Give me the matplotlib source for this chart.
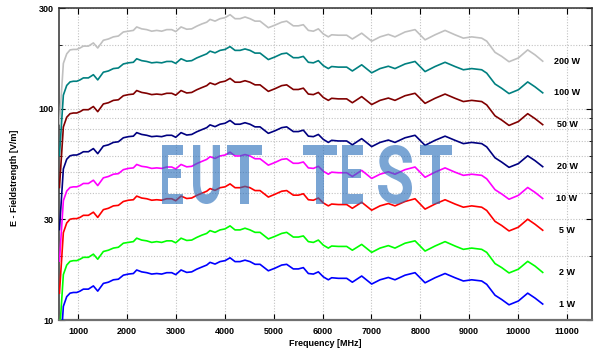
import matplotlib
matplotlib.use('Agg')
import matplotlib.pyplot as plt
from matplotlib.ticker import FixedLocator, NullFormatter
from matplotlib.textpath import TextPath
from matplotlib.patches import PathPatch
from matplotlib.font_manager import FontProperties
from matplotlib.transforms import Affine2D

plt.rcParams['font.family'] = ['Liberation Sans', 'DejaVu Sans']
plt.rcParams['font.weight'] = 'bold'

# ---------------- data ----------------
freq = [620, 700, 769, 837, 905, 973, 1041, 1109, 1212, 1314,
        1403, 1518, 1621, 1723, 1825, 1927, 2030, 2132, 2200, 2302,
        2405, 2507, 2609, 2711, 2814, 2916, 2998, 3107, 3223, 3325,
        3427, 3529, 3632, 3700, 3802, 3904, 4007, 4109, 4211, 4313,
        4415, 4517, 4620, 4722, 4892, 5029, 5165, 5267, 5403, 5506,
        5608, 5710, 5813, 5915, 6017, 6119, 6187, 6324, 6494, 6610,
        6801, 7005, 7176, 7346, 7482, 7688, 7892, 8097, 8301, 8506,
        8710, 8880, 9051, 9255, 9358, 9528, 9665, 9814, 10005, 10196,
        10346, 10503]

e_1w = [6.0, 11.6, 12.9, 13.4, 13.5, 13.5, 13.7, 14.0, 14.0, 14.5,
        13.7, 14.9, 15.1, 15.5, 15.6, 16.3, 16.5, 16.6, 17.25, 16.9,
        16.75, 16.5, 16.6, 16.5, 16.75, 16.75, 16.4, 17.25, 16.8, 16.9,
        17.4, 17.8, 18.2, 18.75, 18.4, 18.9, 19.1, 19.7, 18.9, 18.9,
        19.2, 18.9, 18.35, 18.35, 17.1, 17.6, 18.2, 18.35, 17.45, 17.45,
        17.7, 16.6, 16.5, 16.9, 16.0, 15.5, 15.85, 15.75, 15.75, 15.1,
        16.15, 14.8, 15.5, 15.9, 15.5, 16.3, 16.75, 15.0, 15.85, 16.6,
        15.85, 15.3, 15.5, 15.3, 14.75, 13.1, 12.5, 11.8, 12.3, 13.4,
        12.7, 11.9]

e_2w = [8.49, 16.4, 18.2, 18.95, 19.1, 19.1, 19.4, 19.8, 19.8, 20.5,
        19.4, 21.1, 21.4, 21.9, 22.1, 23.1, 23.3, 23.5, 24.4, 23.9,
        23.7, 23.3, 23.5, 23.3, 23.7, 23.7, 23.2, 24.4, 23.8, 23.9,
        24.6, 25.2, 25.7, 26.5, 26.0, 26.7, 27.0, 27.9, 26.7, 26.7,
        27.2, 26.7, 26.0, 26.0, 24.2, 24.9, 25.7, 26.0, 24.7, 24.7,
        25.0, 23.5, 23.3, 23.9, 22.6, 21.9, 22.4, 22.3, 22.3, 21.4,
        22.8, 20.9, 21.9, 22.5, 21.9, 23.1, 23.7, 21.2, 22.4, 23.5,
        22.4, 21.6, 21.9, 21.6, 20.9, 18.5, 17.7, 16.7, 17.4, 18.95,
        18.0, 16.8]

e_5w = [13.4, 25.9, 28.8, 30.0, 30.2, 30.2, 30.6, 31.3, 31.3, 32.4,
        30.6, 33.3, 33.8, 34.7, 34.9, 36.4, 36.9, 37.1, 38.6, 37.8,
        37.5, 36.9, 37.1, 36.9, 37.5, 37.5, 36.7, 38.6, 37.6, 37.8,
        38.9, 39.8, 40.7, 41.9, 41.1, 42.3, 42.7, 44.1, 42.3, 42.3,
        42.9, 42.3, 41.0, 41.0, 38.2, 39.4, 40.7, 41.0, 39.0, 39.0,
        39.6, 37.1, 36.9, 37.8, 35.8, 34.7, 35.4, 35.2, 35.2, 33.8,
        36.1, 33.1, 34.7, 35.6, 34.7, 36.4, 37.5, 33.5, 35.4, 37.1,
        35.4, 34.2, 34.7, 34.2, 33.0, 29.3, 28.0, 26.4, 27.5, 30.0,
        28.4, 26.6]

e_10w = [19.0, 36.7, 40.8, 42.4, 42.7, 42.7, 43.3, 44.3, 44.3, 45.9,
         43.3, 47.1, 47.8, 49.0, 49.3, 51.5, 52.2, 52.5, 54.5, 53.4,
         53.0, 52.2, 52.5, 52.2, 53.0, 53.0, 51.9, 54.5, 53.1, 53.4,
         55.0, 56.3, 57.6, 59.3, 58.2, 59.8, 60.4, 62.3, 59.8, 59.8,
         60.7, 59.8, 58.0, 58.0, 54.1, 55.7, 57.6, 58.0, 55.2, 55.2,
         56.0, 52.5, 52.2, 53.4, 50.6, 49.0, 50.1, 49.8, 49.8, 47.8,
         51.1, 46.8, 49.0, 50.3, 49.0, 51.5, 53.0, 47.4, 50.1, 52.5,
         50.1, 48.4, 49.0, 48.4, 46.6, 41.4, 39.5, 37.3, 38.9, 42.4,
         40.2, 37.6]

e_20w = [26.8, 51.9, 57.7, 59.9, 60.4, 60.4, 61.3, 62.6, 62.6, 64.8,
         61.3, 66.6, 67.5, 69.3, 69.8, 72.9, 73.8, 74.2, 77.1, 75.6,
         74.9, 73.8, 74.2, 73.8, 74.9, 74.9, 73.3, 77.1, 75.1, 75.6,
         77.8, 79.6, 81.4, 83.9, 82.3, 84.5, 85.4, 88.1, 84.5, 84.5,
         85.9, 84.5, 82.1, 82.1, 76.5, 78.7, 81.4, 82.1, 78.0, 78.0,
         79.2, 74.2, 73.8, 75.6, 71.6, 69.3, 70.9, 70.4, 70.4, 67.5,
         72.2, 66.2, 69.3, 71.1, 69.3, 72.9, 74.9, 67.1, 70.9, 74.2,
         70.9, 68.4, 69.3, 68.4, 66.0, 58.6, 55.9, 52.8, 55.0, 59.9,
         56.8, 53.2]

e_50w = [42.4, 82.0, 91.2, 94.8, 95.5, 95.5, 96.9, 99.0, 99.0, 102.5,
         96.9, 105.4, 106.8, 109.6, 110.3, 115.3, 116.7, 117.4, 122.0, 119.5,
         118.4, 116.7, 117.4, 116.7, 118.4, 118.4, 116.0, 122.0, 118.8, 119.5,
         123.0, 125.9, 128.7, 132.6, 130.1, 133.6, 135.1, 139.3, 133.6, 133.6,
         135.8, 133.6, 129.8, 129.8, 120.9, 124.5, 128.7, 129.8, 123.4, 123.4,
         125.2, 117.4, 116.7, 119.5, 113.1, 109.6, 112.1, 111.4, 111.4, 106.8,
         114.2, 104.7, 109.6, 112.4, 109.6, 115.3, 118.4, 106.1, 112.1, 117.4,
         112.1, 108.2, 109.6, 108.2, 104.3, 92.6, 88.4, 83.4, 87.0, 94.8,
         89.8, 84.1]

e_100w = [60, 116, 129, 134, 135, 135, 137, 140, 140, 145,
          137, 149, 151, 155, 156, 163, 165, 166, 172.5, 169,
          167.5, 165, 166, 165, 167.5, 167.5, 164, 172.5, 168, 169,
          174, 178, 182, 187.5, 184, 189, 191, 197, 189, 189,
          192, 189, 183.5, 183.5, 171, 176, 182, 183.5, 174.5, 174.5,
          177, 166, 165, 169, 160, 155, 158.5, 157.5, 157.5, 151,
          161.5, 148, 155, 159, 155, 163, 167.5, 150, 158.5, 166,
          158.5, 153, 155, 153, 147.5, 131, 125, 118, 123, 134,
          127, 119]

e_200w = [84.9, 164, 182, 190, 191, 191, 194, 198, 198, 205,
          194, 211, 214, 219, 221, 231, 233, 235, 244, 239,
          237, 233, 235, 233, 237, 237, 232, 244, 238, 239,
          246, 252, 257, 265, 260, 267, 270, 279, 267, 267,
          272, 267, 260, 260, 242, 249, 257, 260, 247, 247,
          250, 235, 233, 239, 226, 219, 224, 223, 223, 214,
          228, 209, 219, 225, 219, 231, 237, 212, 224, 235,
          224, 216, 219, 216, 209, 185, 177, 167, 174, 190,
          180, 168]

series_labels = ['200 W', '100 W', '50 W', '20 W', '10 W', '5 W', '2 W', '1 W']
series_values = [e_200w, e_100w, e_50w, e_20w, e_10w, e_5w, e_2w, e_1w]
series_colors = ['#c0c0c0', '#008080', '#800000', '#000080',
                 '#ff00ff', '#ff0000', '#00ff00', '#0000ff']

x_ticks = [1000, 2000, 3000, 4000, 5000, 6000, 7000, 8000, 9000, 10000, 11000]
y_ticks = [10, 30, 100, 300]
y_minor = [20, 40, 50, 60, 70, 80, 90, 200]
label_freq = 11000

# ---------------- figure ----------------
W, H = 603, 350
fig = plt.figure(figsize=(W / 100, H / 100), dpi=100)
L, R, T, B = 59, 592, 8, 320
ax = fig.add_axes([L / W, (H - B) / H, (R - L) / W, (B - T) / H])
ax.set_yscale('log')
ax.set_xlim(611, 11511)
ax.set_ylim(10, 300)

ax.set_xticks(x_ticks)
ax.set_xticklabels([str(v) for v in x_ticks])
ax.set_yticks(y_ticks)
ax.set_yticklabels([str(v) for v in y_ticks])
ax.yaxis.set_minor_locator(FixedLocator(y_minor))
ax.yaxis.set_minor_formatter(NullFormatter())
ax.xaxis.set_minor_locator(FixedLocator([]))

ax.tick_params(which='both', direction='in', top=True, right=True,
               labelsize=6.5, colors='black')
ax.tick_params(which='major', length=4, width=0.8)
ax.tick_params(which='minor', length=2.5, width=0.6)
ax.tick_params(axis='y', pad=4)
ax.tick_params(axis='x', pad=5)

grid_kw = dict(color='#c2c2c2', linestyle=(0, (1, 1.5)), linewidth=0.8)
ax.grid(True, which='major', axis='x', **grid_kw)
ax.grid(True, which='both', axis='y', **grid_kw)
ax.set_axisbelow(True)

for sp in ax.spines.values():
    sp.set_color('#303030')
    sp.set_linewidth(1.1)
ax.spines['bottom'].set_color('#707070')
ax.spines['bottom'].set_linewidth(1.6)

for lab, vals, col in zip(series_labels, series_values, series_colors):
    ax.plot(freq, vals, color=col, lw=1.2, zorder=3)
    ax.text(label_freq, vals[-1], lab, ha='center', va='center',
            fontsize=6.5, fontweight='bold', color='black', zorder=4)

ax.set_xlabel('Frequency [MHz]', fontsize=6.5, fontweight='bold')
ax.xaxis.set_label_coords(0.5, (B - 339) / (B - T))
ax.xaxis.label.set_va('top')
ax.set_ylabel('E - Fieldstrength [V/m]', fontsize=6.5, fontweight='bold', va='center')
ax.yaxis.set_label_coords((15 - L) / (R - L), (B - 178) / (B - T))

# ---------------- watermark ----------------
fp = FontProperties(family='Roboto', weight='bold')
letters = [('E', 162, 183), ('U', 193, 220), ('T', 227, 262),
           ('T', 303, 337), ('E', 342, 363), ('S', 378, 412), ('T', 420, 452)]
top_px, bot_px = 145, 204
for ch, x0, x1 in letters:
    tp = TextPath((0, 0), ch, size=100, prop=fp)
    ext = tp.get_extents()
    sx = (x1 - x0) / ext.width
    sy = (bot_px - top_px) / ext.height
    tr = Affine2D().translate(-ext.x0, -ext.y0).scale(sx, sy).translate(x0, H - bot_px)
    patch = PathPatch(tp, transform=tr, facecolor=(0.16, 0.43, 0.73),
                      edgecolor='none', alpha=0.62, zorder=10)
    fig.add_artist(patch)

fig.savefig('out.png', dpi=100)
